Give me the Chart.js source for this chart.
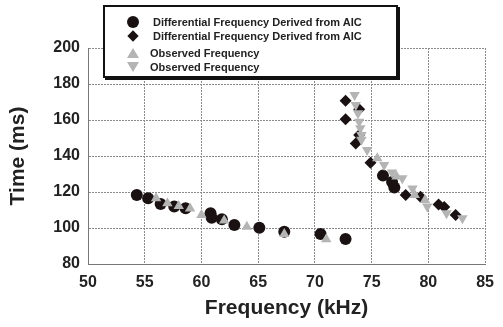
<!DOCTYPE html>
<html>
<head>
<meta charset="utf-8">
<script src="https://cdn.jsdelivr.net/npm/chart.js@4.4.1/dist/chart.umd.min.js"></script>
<style>
  body { margin: 0; background: #fff; }
  #wrap { position: relative; width: 503px; height: 327px; }
  #legend {
    position: absolute; left: 103px; top: 5px; width: 291px; height: 69px;
    background: #fff; border: 2px solid #111; box-shadow: 2px 2px 0 #111;
    font: bold 11px "Liberation Sans", Arial, sans-serif; color: #222;
  }
  .row { position: absolute; left: 0; height: 14px; line-height: 14px; white-space: nowrap; }
  .mk { position: absolute; }
  .txt { position: absolute; }
</style>
</head>
<body>
<div id="wrap">
  <canvas id="myChart" width="503" height="327"></canvas>
  <div id="legend">
    <div class="row" style="top:8px"><span class="mk" style="left:22px;top:1px;width:12px;height:12px;border-radius:50%;background:#1a1212"></span><span class="txt" style="left:48px">Differential Frequency Derived from AIC</span></div>
    <div class="row" style="top:22px"><span class="mk" style="left:24px;top:3px;width:8px;height:8px;background:#1a1212;transform:rotate(45deg)"></span><span class="txt" style="left:48px">Differential Frequency Derived from AIC</span></div>
    <div class="row" style="top:39px"><span class="mk" style="left:22px;top:2px;width:0;height:0;border-left:6px solid transparent;border-right:6px solid transparent;border-bottom:10px solid #b4b4b4"></span><span class="txt" style="left:45px">Observed Frequency</span></div>
    <div class="row" style="top:53px"><span class="mk" style="left:22px;top:2px;width:0;height:0;border-left:6px solid transparent;border-right:6px solid transparent;border-top:10px solid #b4b4b4"></span><span class="txt" style="left:45px">Observed Frequency</span></div>
  </div>
</div>
<script>
    // circles: differential frequency derived from AIC
    var circleFreq = [54.3, 55.3, 56.4, 57.6, 58.6, 60.8, 60.9, 61.8, 62.9, 65.1, 67.3, 70.5, 72.7, 76.0, 76.8, 77.0];
    var circleTime = [118.3, 116.5, 113.3, 111.9, 111.0, 108.2, 105.7, 104.8, 101.7, 100.2, 97.9, 96.7, 93.9, 129.1, 125.5, 122.5];
    // diamonds: differential frequency derived from AIC
    var diamondFreq = [72.7, 72.7, 73.9, 73.9, 73.6, 74.9, 78.0, 79.3, 80.9, 81.4, 82.4];
    var diamondTime = [170.7, 160.4, 166.0, 151.7, 147.0, 136.3, 118.3, 117.4, 113.0, 111.6, 107.2];
    // up triangles: observed frequency
    var upFreq = [56.0, 57.0, 58.0, 59.0, 60.0, 62.0, 64.0, 67.3, 71.0, 75.5, 77.2, 78.8, 79.7];
    var upTime = [116.5, 113.7, 112.2, 110.9, 107.2, 104.1, 100.7, 96.7, 93.7, 138.7, 128.6, 118.3, 115.6];
    // down triangles: observed frequency
    var downFreq = [73.5, 73.6, 73.8, 73.9, 74.0, 74.1, 74.1, 74.6, 76.1, 76.8, 77.7, 78.6, 79.9, 81.6, 83.0];
    var downTime = [173.9, 168.3, 163.7, 159.0, 155.4, 151.7, 149.0, 143.3, 135.0, 130.8, 127.6, 122.0, 111.9, 108.2, 105.4];

    var xTicks = [50, 55, 60, 65, 70, 75, 80, 85];
    var yTicks = [80, 100, 120, 140, 160, 180, 200];

    function pts(xs, ys) {
        return xs.map(function (x, i) { return { x: x, y: ys[i] }; });
    }

    var black = "#1a1212";
    var gray = "#b4b4b4";
    var font = "'Liberation Sans', Arial, sans-serif";

    var ctx = document.getElementById("myChart");
    var myChart = new Chart(ctx, {
        type: 'scatter',
        data: {
            datasets: [
                { label: 'Observed Frequency', data: pts(downFreq, downTime), pointStyle: 'triangle', rotation: 180, pointRadius: 6, backgroundColor: gray, borderColor: gray, borderWidth: 0, order: 1 },
                { label: 'Observed Frequency', data: pts(upFreq, upTime), pointStyle: 'triangle', pointRadius: 6, backgroundColor: gray, borderColor: gray, borderWidth: 0, order: 2 },
                { label: 'Differential Frequency Derived from AIC', data: pts(diamondFreq, diamondTime), pointStyle: 'rectRot', pointRadius: 6, backgroundColor: black, borderColor: black, borderWidth: 0, order: 3 },
                { label: 'Differential Frequency Derived from AIC', data: pts(circleFreq, circleTime), pointStyle: 'circle', pointRadius: 6, backgroundColor: black, borderColor: black, borderWidth: 0, order: 4 }
            ]
        },
        options: {
            responsive: false,
            animation: false,
            layout: { padding: { left: 0, right: 12, top: 48, bottom: 0 } },
            plugins: { legend: { display: false }, tooltip: { enabled: false } },
            scales: {
                x: {
                    type: 'linear', min: 50, max: 85,
                    afterBuildTicks: function (s) { s.ticks = xTicks.map(function (v) { return { value: v }; }); },
                    afterFit: function (s) { s.height = 63; },
                    grid: { color: '#8a8a8a', lineWidth: 1, tickLength: 0 },
                    border: { color: '#777', dash: [2, 1] },
                    ticks: { color: '#222', padding: 9, font: { family: font, size: 16, weight: 'bold' } },
                    title: { display: true, text: 'Frequency (kHz)', color: '#222', padding: { top: 2, bottom: 6 }, font: { family: font, size: 21, weight: 'bold' } }
                },
                y: {
                    type: 'linear', min: 80, max: 200,
                    afterBuildTicks: function (s) { s.ticks = yTicks.map(function (v) { return { value: v }; }); },
                    afterFit: function (s) { s.width = 88; },
                    grid: { color: '#8a8a8a', lineWidth: 1, tickLength: 0 },
                    border: { color: '#777', dash: [2, 1] },
                    ticks: { color: '#222', padding: 8, font: { family: font, size: 16, weight: 'bold' } },
                    title: { display: true, text: 'Time (ms)', color: '#222', padding: { top: 6, bottom: 0 }, font: { family: font, size: 21, weight: 'bold' } }
                }
            }
        }
    });
</script>
</body>
</html>
